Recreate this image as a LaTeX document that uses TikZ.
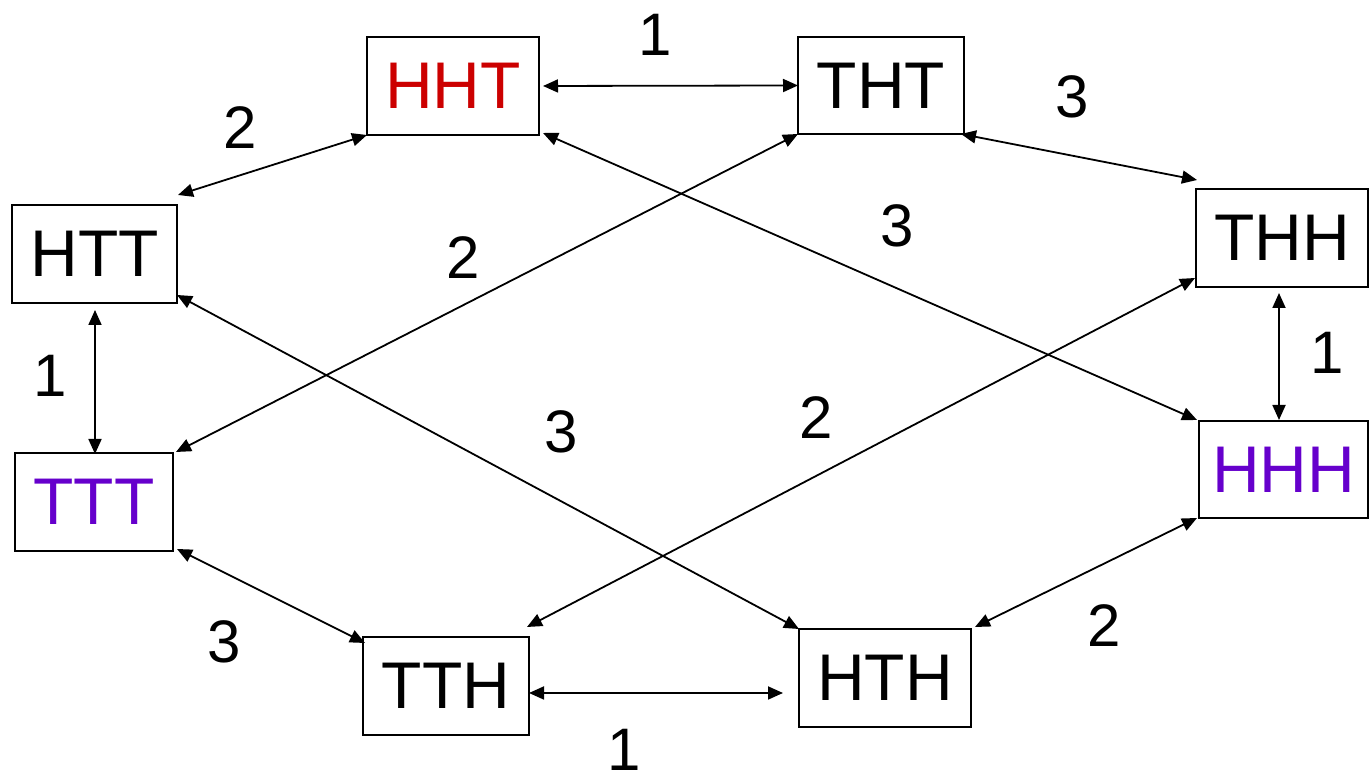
\documentclass[tikz,border=0pt]{standalone}
\usepackage{fontspec}
\setmainfont{Liberation Sans}
\usetikzlibrary{arrows.meta}
\definecolor{hred}{HTML}{CC0000}
\definecolor{hpurple}{HTML}{6600CC}
\begin{document}
\begin{tikzpicture}[x=1pt,y=1pt,
  box/.style={draw=black,line width=2pt,fill=white,inner sep=0pt,outer sep=0pt,
     font=\fontsize{66}{70}\selectfont},
  lbl/.style={inner sep=0pt,font=\fontsize{60}{64}\selectfont},
  link/.style={line width=1.8pt,{Triangle[length=15pt,width=13pt]}-{Triangle[length=15pt,width=13pt]}}]
\useasboundingbox (0,0) rectangle (1369,775);
% boxes (y = 775 - image y)
\node[box,minimum width=172pt,minimum height=98pt,text=hred] (HHT) at (453,689) {HHT};
\node[box,minimum width=166pt,minimum height=97pt] (THT) at (881,689.5) {THT};
\node[box,minimum width=165pt,minimum height=98pt] (HTT) at (94.5,521) {HTT};
\node[box,minimum width=158pt,minimum height=98pt,text=hpurple] (TTT) at (94,273) {TTT};
\node[box,minimum width=172pt,minimum height=98pt] (THH) at (1282,537) {THH};
\node[box,minimum width=169pt,minimum height=97pt,text=hpurple] (HHH) at (1283.5,305.5) {HHH};
\node[box,minimum width=166pt,minimum height=98pt] (TTH) at (446,89) {TTH};
\node[box,minimum width=172pt,minimum height=98pt] (HTH) at (885,97) {HTH};
% connectors
\draw[link] ([xshift=4pt]HHT.east) -- (THT.west);
\draw[link] (HHT.south west) -- ([shift={(1pt,10pt)}]HTT.north east);
\draw[link] ([shift={(-3pt,0pt)}]THT.south east) -- ([shift={(1pt,9pt)}]THH.north west);
\draw[link] ([shift={(4pt,2pt)}]HHT.south east) -- ([shift={(-2pt,1pt)}]HHH.north west);
\draw[link] (THT.south west) -- ([shift={(3pt,1pt)}]TTT.north east);
\draw[link] ([shift={(0pt,8pt)}]HTT.south east) -- (HTH.north west);
\draw[link] ([shift={(-1pt,9pt)}]THH.south west) -- ([shift={(-2pt,10pt)}]TTH.north east);
\draw[link] ([shift={(0.5pt,-7pt)}]HTT.south) -- ([shift={(1pt,-1pt)}]TTT.north);
\draw[link] ([shift={(-3pt,-6pt)}]THH.south) -- ([shift={(-4.5pt,1pt)}]HHH.north);
\draw[link] ([shift={(4pt,2pt)}]TTT.south east) -- ([shift={(2pt,-6pt)}]TTH.north west);
\draw[link] ([shift={(-2pt,0pt)}]HHH.south west) -- ([shift={(4pt,2pt)}]HTH.north east);
\draw[link] ([yshift=-7pt]TTH.east) -- ([shift={(-16pt,-15pt)}]HTH.west);
% labels
\node[lbl] (l1) at (655,740) {1};
\node[lbl] (l2) at (240,647) {2};
\node[lbl] (l3) at (1072,678) {3};
\node[lbl] (l4) at (897,549) {3};
\node[lbl] (l5) at (463,517) {2};
\node[lbl] (l6) at (50,399) {1};
\node[lbl] (l7) at (561,343) {3};
\node[lbl] (l8) at (816,357) {2};
\node[lbl] (l9) at (1327,422) {1};
\node[lbl] (l10) at (224,133) {3};
\node[lbl] (l11) at (1104,149) {2};
\node[lbl] (l12) at (624,25) {1};
\end{tikzpicture}
\end{document}
